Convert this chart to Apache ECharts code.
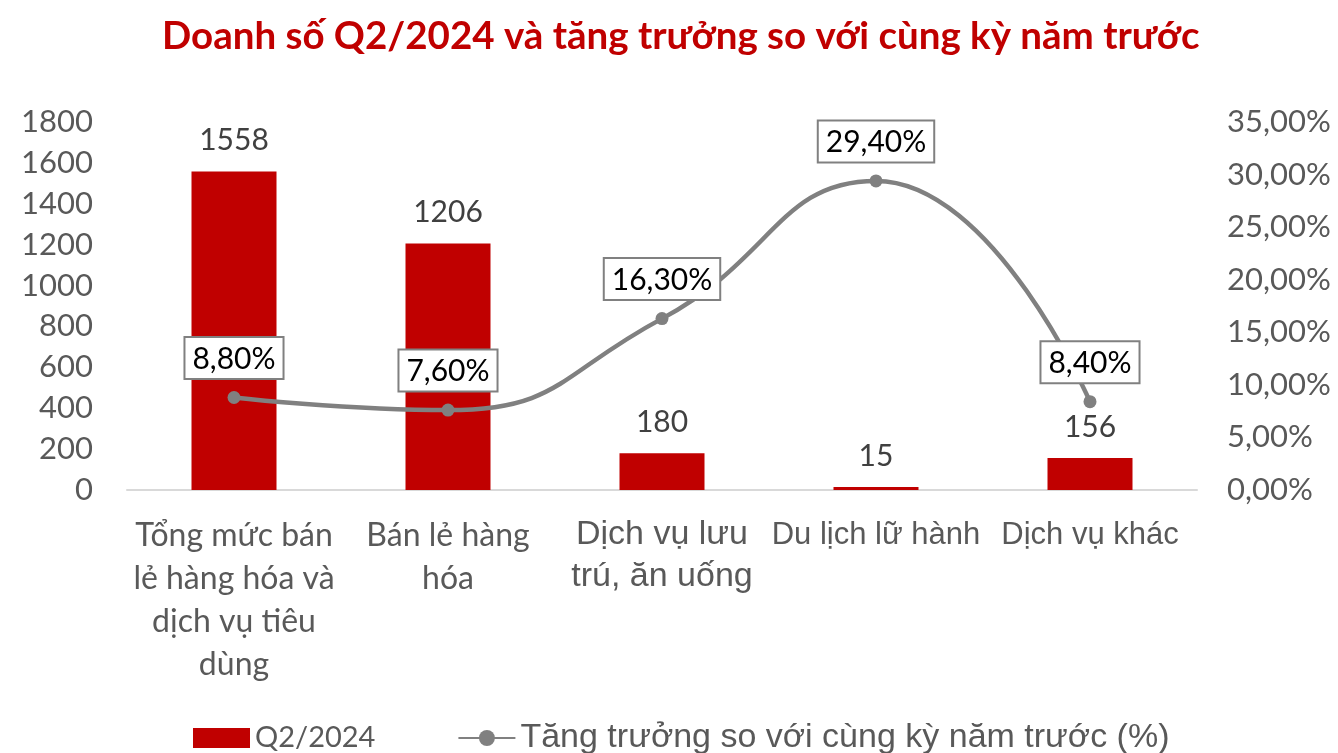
<!DOCTYPE html>
<html>
<head>
<meta charset="utf-8">
<script src="https://cdn.jsdelivr.net/npm/echarts@6/dist/echarts.min.js"></script>
<style>
  html, body { margin: 0; padding: 0; background: #fff; }
  #main { width: 1338px; height: 753px; }
</style>
</head>
<body>
<div id="main"></div>
<script>
// data
const categories = [
  "Tổng mức bán\nlẻ hàng hóa và\ndịch vụ tiêu\ndùng",
  "Bán lẻ hàng\nhóa",
  "Dịch vụ lưu\ntrú, ăn uống",
  "Du lịch lữ hành",
  "Dịch vụ khác",
];
const sales = [1558, 1206, 180, 15, 156];
const growth = [8.8, 7.6, 16.3, 29.4, 8.4];
const leftTicks = { min: 0, max: 1800, interval: 200 };
const rightTicks = { min: 0, max: 35, interval: 5 };

const calibriLike = "Lato, 'Noto Sans', sans-serif";
const arialLike = "'Liberation Sans', Arial, sans-serif";
// rich style key per category label (the source mixes fonts)
const labelStyleKeys = ["c", "c", "big", "a", "a"];

const chart = echarts.init(document.getElementById("main"));

const option = {
  animation: false,
  title: {
    text: "Doanh số Q2/2024 và tăng trưởng so với cùng kỳ năm trước",
    left: 157,
    top: 12,
    textStyle: {
      color: "#C00000",
      fontFamily: calibriLike,
      fontWeight: "bold",
      fontSize: 38.5,
    },
  },
  legend: {
    left: 188,
    top: 716,
    itemGap: 82,
    itemWidth: 57,
    itemHeight: 20,
    data: [
      {
        name: "Q2/2024",
        icon: "rect",
        textStyle: { fontFamily: calibriLike, fontSize: 29, color: "#595959" },
      },
      {
        name: "Tăng trưởng so với cùng kỳ năm trước (%)",
        textStyle: { fontFamily: arialLike, fontSize: 34, color: "#595959" },
      },
    ],
  },
  grid: {
    left: 127,
    right: 141,
    top: 122,
    bottom: 263,
  },
  xAxis: {
    type: "category",
    data: categories,
    axisTick: { show: false },
    axisLine: { lineStyle: { color: "#D9D9D9", width: 2 } },
    axisLabel: {
      interval: 0,
      margin: 24,
      color: "#595959",
      lineHeight: 43,
      formatter: function (value, idx) {
        const key = labelStyleKeys[idx];
        return value
          .split("\n")
          .map((l) => "{" + key + "|" + l + "}")
          .join("\n");
      },
      rich: {
        c: { fontFamily: calibriLike, fontSize: 32, lineHeight: 43, color: "#595959" },
        a: { fontFamily: arialLike, fontSize: 31, lineHeight: 43, color: "#595959" },
        big: { fontFamily: arialLike, fontSize: 34, lineHeight: 42, color: "#595959" },
      },
    },
  },
  yAxis: [
    {
      type: "value",
      min: leftTicks.min,
      max: leftTicks.max,
      interval: leftTicks.interval,
      splitLine: { show: false },
      axisLine: { show: false },
      axisTick: { show: false },
      axisLabel: {
        margin: 34,
        color: "#595959",
        fontFamily: calibriLike,
        fontSize: 31,
        formatter: (v) => String(v),
      },
    },
    {
      type: "value",
      min: rightTicks.min,
      max: rightTicks.max,
      interval: rightTicks.interval,
      splitLine: { show: false },
      axisLine: { show: false },
      axisTick: { show: false },
      axisLabel: {
        margin: 30,
        color: "#595959",
        fontFamily: calibriLike,
        fontSize: 31,
        formatter: (v) => v.toFixed(2).replace(".", ",") + "%",
      },
    },
  ],
  series: [
    {
      name: "Q2/2024",
      type: "bar",
      data: sales,
      barWidth: 85,
      itemStyle: { color: "#C00000" },
      label: {
        show: true,
        position: "top",
        distance: 16,
        color: "#404040",
        fontFamily: calibriLike,
        fontSize: 30,
      },
    },
    {
      name: "Tăng trưởng so với cùng kỳ năm trước (%)",
      type: "line",
      yAxisIndex: 1,
      data: growth,
      smooth: 0.5,
      symbol: "circle",
      symbolSize: 13,
      z: 5,
      lineStyle: { color: "#808080", width: 4.5 },
      itemStyle: { color: "#808080" },
      label: {
        show: true,
        position: "top",
        distance: 13,
        formatter: (p) => p.value.toFixed(2).replace(".", ",") + "%",
        color: "#000",
        fontFamily: calibriLike,
        fontSize: 30,
        backgroundColor: "#fff",
        borderColor: "#808080",
        borderWidth: 2,
        padding: [6, 7, 4, 7],
      },
    },
  ],
};

chart.setOption(option);
</script>
</body>
</html>
